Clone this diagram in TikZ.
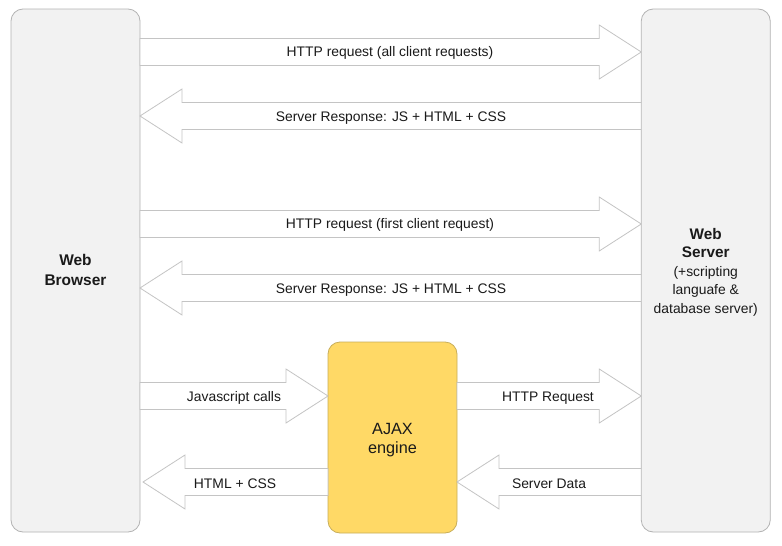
\documentclass[tikz,border=0pt]{standalone}
\usepackage{fontspec}
\setmainfont{Liberation Sans}
\usetikzlibrary{calc}
\definecolor{boxfill}{HTML}{F2F2F2}
\definecolor{boxline}{HTML}{B3B3B3}
\definecolor{arrline}{HTML}{C4C4C4}
\definecolor{ajaxfill}{HTML}{FFD966}
\definecolor{ajaxline}{HTML}{C8AE5A}
\definecolor{txt}{HTML}{1A1A1A}
\begin{document}
\begin{tikzpicture}[x=0.75pt,y=-0.75pt,
  side/.style={draw=boxline,fill=boxfill,rounded corners=9pt,minimum width=96.75pt,
    minimum height=392.25pt,inner sep=0pt,outer sep=0pt,line width=0.6pt},
  ajaxbox/.style={draw=ajaxline,fill=ajaxfill,rounded corners=9pt,minimum width=96.75pt,
    minimum height=143.25pt,inner sep=0pt,outer sep=0pt,line width=0.6pt},
  boxtext/.style={align=center,text=txt,inner sep=0pt},
  lbl/.style={text=txt,inner sep=0pt,font=\fontsize{10.4pt}{12pt}\selectfont},
  barrow/.style={draw=arrline,fill=white,line width=0.6pt,line join=miter,
    to path={let \p1=(\tikztostart),\p2=(\tikztotarget),\n1={sign(\x2-\x1)} in
      (\x1,\y1+10.125pt) -- (\x2-\n1*31.5pt,\y1+10.125pt) -- (\x2-\n1*31.5pt,\y1+20.25pt)
      -- (\x2,\y2) -- (\x2-\n1*31.5pt,\y1-20.25pt) -- (\x2-\n1*31.5pt,\y1-10.125pt)
      -- (\x1,\y1-10.125pt) -- cycle}}]
\useasboundingbox (0,0) rectangle (782,546);
\fill[white] (0,0) rectangle (782,546);

\node[side] (browser) at (75.5,270.5) {};
\node[side] (server) at (705.75,270.5) {};
\node[ajaxbox] (ajax) at (392.5,437.5) {};

\node[boxtext,font=\fontsize{11.6pt}{15pt}\selectfont\bfseries]
  (browsertext) at ([yshift=0.3pt]browser.center) {Web\\Browser};
\node[boxtext,font=\fontsize{10.4pt}{13.9pt}\selectfont]
  (servertext) at ([yshift=-1.2pt]server.center)
  {\textbf{\fontsize{11.5pt}{14pt}\selectfont Web}\\
   \textbf{\fontsize{11.5pt}{14pt}\selectfont Server}\\
   (+scripting\\ languafe \&\\ database server)};
\node[boxtext,font=\fontsize{12.2pt}{14.3pt}\selectfont]
  (ajaxtext) at ([yshift=-2.2pt]ajax.center) {AJAX\\engine};

\draw[barrow] (browser.east |- 0,52) to (server.west |- 0,52);
\draw[barrow] (server.west |- 0,116) to (browser.east |- 0,116);
\draw[barrow] (browser.east |- 0,224) to (server.west |- 0,224);
\draw[barrow] (server.west |- 0,288) to (browser.east |- 0,288);
\draw[barrow] (browser.east |- 0,396) to (ajax.west |- 0,396);
\draw[barrow] (ajax.west |- 0,482) to ([xshift=2.25pt]browser.east |- 0,482);
\draw[barrow] (ajax.east |- 0,396) to (server.west |- 0,396);
\draw[barrow] (server.west |- 0,482) to (ajax.east |- 0,482);

\node[lbl] (l1) at (390,53) {HTTP request (all client requests)};
\node[lbl] (l2) at (391,118) {Server Response: JS + HTML + CSS};
\node[lbl] (l3) at (390,225) {HTTP request (first client request)};
\node[lbl] (l4) at (391,290) {Server Response: JS + HTML + CSS};
\node[lbl] (l5) at (234,398) {Javascript calls};
\node[lbl] (l6) at (235,484) {HTML + CSS};
\node[lbl] (l7) at (548,398) {HTTP Request};
\node[lbl] (l8) at (549,484) {Server Data};
\end{tikzpicture}
\end{document}
